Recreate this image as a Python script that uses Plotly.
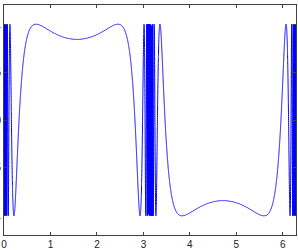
import numpy as np
import plotly.graph_objects as go

# Function plot: y = sin(1/sin(x)) sampled over [0, 2*pi]
x_values = np.linspace(0, 2 * np.pi, 12000)
with np.errstate(divide="ignore", invalid="ignore"):
    y_values = np.sin(1.0 / np.sin(x_values))
y_values = np.nan_to_num(y_values)

x_ticks = [0, 1, 2, 3, 4, 5, 6]
x_tick_labels = ["0", "1", "2", "3", "4", "5", "6"]
y_ticks = [-1, -0.5, 0, 0.5, 1]
y_tick_labels = ["-1", "-0.5", "0", "0.5", "1"]

fig = go.Figure()
fig.add_trace(go.Scatter(x=x_values, y=y_values, mode="lines",
                         line=dict(color="#0000ff", width=1, simplify=False)))

axis_common = dict(showgrid=False, zeroline=False, showline=True, mirror="ticks",
                   linecolor="#404040", linewidth=1, ticks="inside", ticklen=3,
                   tickcolor="#404040", tickfont=dict(family="Liberation Sans, Arial", size=10, color="#222"))

fig.update_layout(
    width=298, height=250,
    margin=dict(l=4, r=2, t=5, b=15),
    paper_bgcolor="white", plot_bgcolor="white",
    showlegend=False,
    xaxis=dict(range=[0, 2 * np.pi], tickvals=x_ticks, ticktext=x_tick_labels,
               automargin=False, **axis_common),
    yaxis=dict(range=[-1.2, 1.2], tickvals=y_ticks, ticktext=y_tick_labels,
               automargin=False, **axis_common),
)

fig.write_html("out.html")
